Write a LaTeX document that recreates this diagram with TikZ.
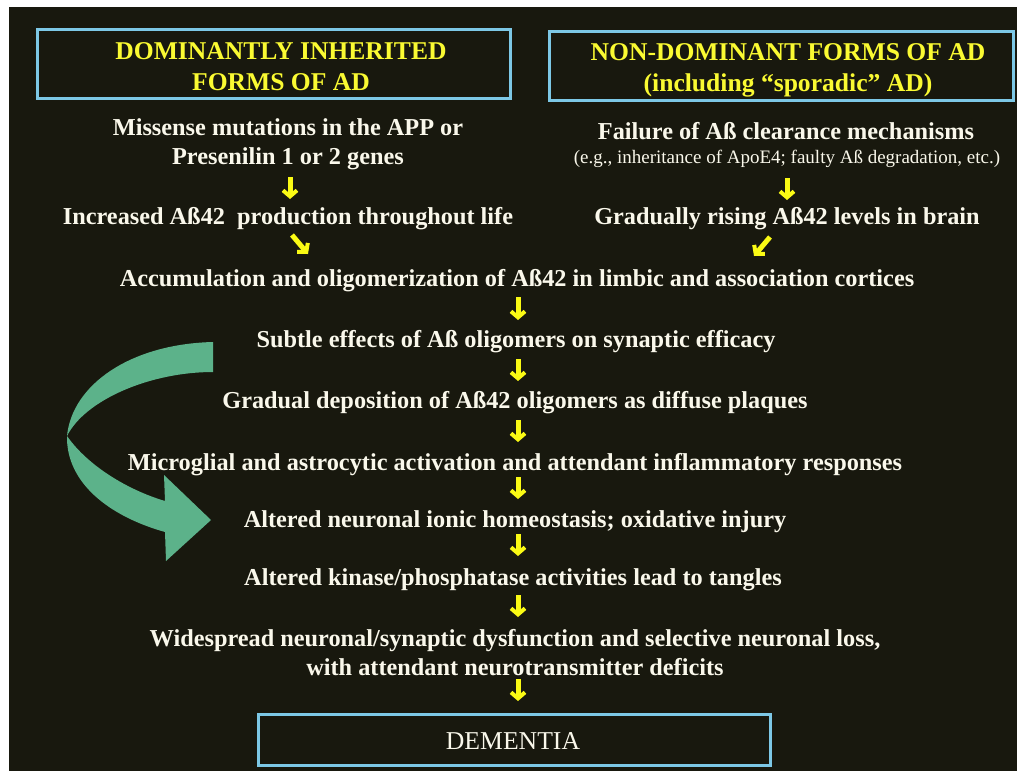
\documentclass[tikz,border=0pt]{standalone}
\usepackage{fontspec}
\setmainfont{Liberation Serif}[BoldFont={Liberation Serif Bold}]
\usetikzlibrary{arrows.meta}
\definecolor{bgdark}{RGB}{24,24,14}
\definecolor{boxblue}{RGB}{125,200,230}
\definecolor{headyellow}{RGB}{250,250,50}
\definecolor{arryellow}{RGB}{250,250,20}
\definecolor{bandgreen}{RGB}{92,178,138}
\definecolor{txtwhite}{RGB}{250,248,235}
\tikzset{
  bodytxt/.style={text=txtwhite, font=\bfseries\fontsize{24.3}{29}\selectfont, align=center, inner sep=0pt},
  smalltxt/.style={text=txtwhite, font=\fontsize{19}{22}\selectfont, align=center, inner sep=0pt},
  headtxt/.style={text=headyellow, font=\bfseries\fontsize{25.6}{31}\selectfont, align=center, inner sep=0pt},
  headbox/.style={draw=boxblue, line width=3pt, fill=bgdark},
  yarrow/.style={draw=arryellow, line width=5pt, -{Straight Barb[length=6pt,width=14pt,line width=4pt]}}
}
\begin{document}
\begin{tikzpicture}[x=1pt,y=-1pt]
\useasboundingbox (0,0) rectangle (1029,771);
\fill[white] (0,0) rectangle (1029,771);
\fill[bgdark] (9,7) rectangle (1017,771);

% heading boxes
\draw[headbox] (37,29) rectangle (510,98);
\node[headtxt] (hl) at (281,67) {DOMINANTLY INHERITED\\FORMS OF AD};
\draw[headbox] (549,31) rectangle (1013,100);
\node[headtxt] (hr) at (788,70) {NON-DOMINANT FORMS OF AD\\(including “sporadic” AD)};

% left column
\node[bodytxt] (l1) at (288,144) {Missense mutations in the APP or\\Presenilin 1 or 2 genes};
\node[bodytxt] (l2) at (288,219) {Increased Aß42\ \ production throughout life};
% right column
\node[bodytxt] (r1) at (786,131) {Failure of Aß clearance mechanisms};
\node[smalltxt] (r1b) at (787,159) {(e.g., inheritance of ApoE4; faulty Aß degradation, etc.)};
\node[bodytxt] (r2) at (787,219) {Gradually rising Aß42 levels in brain};

% central chain
\node[bodytxt] (c1) at (517,281) {Accumulation and oligomerization of Aß42 in limbic and association cortices};
\node[bodytxt] (c2) at (516,342) {Subtle effects of Aß oligomers on synaptic efficacy};
\node[bodytxt] (c3) at (515,403) {Gradual deposition of Aß42 oligomers as diffuse plaques};
\node[bodytxt] (c4) at (515,465) {Microglial and astrocytic activation and attendant inflammatory responses};
\node[bodytxt] (c5) at (515,522) {Altered neuronal ionic homeostasis; oxidative injury};
\node[bodytxt] (c6) at (513,580) {Altered kinase/phosphatase activities lead to tangles};
\node[bodytxt] (c7) at (515,653) {Widespread neuronal/synaptic dysfunction and selective neuronal loss,\\with attendant neurotransmitter deficits};

% dementia box
\draw[headbox] (258,714) rectangle (770,765);
\node[text=txtwhite, font=\fontsize{25.7}{28}\selectfont, inner sep=0pt] (dem) at (513,741) {DEMENTIA};

% arrow coordinates
\coordinate (a1s) at (290,177); \coordinate (a1e) at (290,199);
\coordinate (a2s) at (787,178); \coordinate (a2e) at (787,200);
\coordinate (a3s) at (292,235); \coordinate (a3e) at (308,254);
\coordinate (a4s) at (770,237); \coordinate (a4e) at (754,256);
\coordinate (a5s) at (518,297); \coordinate (a5e) at (518,320);
\coordinate (a6s) at (518,359); \coordinate (a6e) at (518,381);
\coordinate (a7s) at (518,420); \coordinate (a7e) at (518,442);
\coordinate (a8s) at (518,477); \coordinate (a8e) at (518,499);
\coordinate (a9s) at (518,534); \coordinate (a9e) at (518,556);
\coordinate (a10s) at (518,595); \coordinate (a10e) at (518,617);
\coordinate (a11s) at (518,679); \coordinate (a11e) at (518,701);
\foreach \i in {1,...,11} {\draw[yarrow] (a\i s) -- (a\i e);}

% curved green arrow
\fill[bandgreen] (213,342) .. controls (130,344) and (72,385) .. (67,436)
   .. controls (85,400) and (150,372) .. (213,372) -- cycle;
\fill[bandgreen] (67,436) .. controls (88,466) and (128,490) .. (165,501)
   -- (164,475) -- (211,520) -- (166,561) -- (165,532)
   .. controls (108,516) and (66,482) .. (67,436) -- cycle;
\end{tikzpicture}
\end{document}
